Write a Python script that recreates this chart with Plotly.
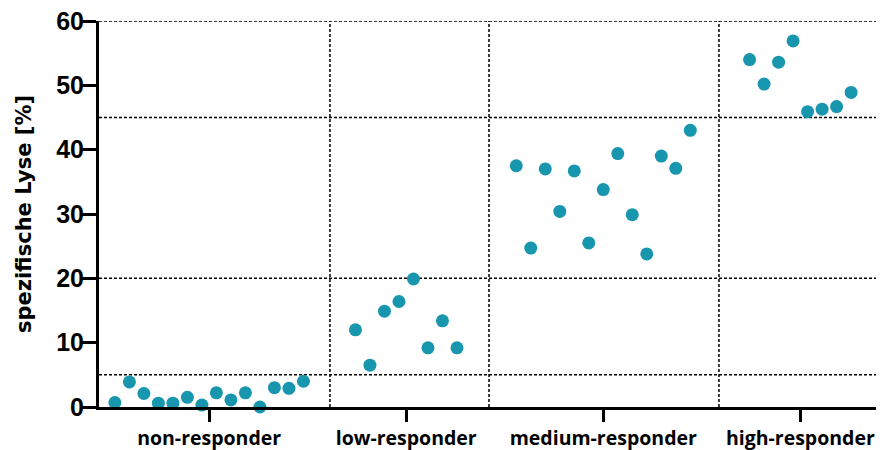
import plotly.graph_objects as go

# Daten (spezifische Lyse in %)
kategorien = ["non-responder", "low-responder", "medium-responder", "high-responder"]
non_responder = [0.7, 3.9, 2.1, 0.6, 0.6, 1.5, 0.3, 2.2, 1.1, 2.2, 0.0, 3.0, 2.9, 4.0]
low_responder = [12.0, 6.5, 14.9, 16.4, 19.9, 9.2, 13.4, 9.2]
medium_responder = [37.5, 24.7, 37.0, 30.4, 36.7, 25.5, 33.8, 39.4, 29.9, 23.8, 39.0, 37.1, 43.0]
high_responder = [54.0, 50.2, 53.6, 56.9, 45.9, 46.3, 46.7, 48.9]
gruppen = [non_responder, low_responder, medium_responder, high_responder]

schwellen = [5, 20, 45, 60]
trenner = [0.613, 1.42, 2.587]

FARBE = "#1796ae"
abstand = 0.0736  # horizontaler Abstand der Punkte innerhalb einer Gruppe

fig = go.Figure()
for i, werte in enumerate(gruppen):
    n = len(werte)
    xs = [i + (j - (n - 1) / 2) * abstand for j in range(n)]
    fig.add_trace(go.Scatter(
        x=xs, y=werte, mode="markers",
        marker=dict(color=FARBE, size=13, line=dict(width=0)),
        cliponaxis=False, showlegend=False
    ))

linie = dict(color="black", width=1.5, dash="3px,2px")
for s in schwellen:
    fig.add_shape(type="line", xref="paper", x0=0, x1=1, yref="y", y0=s, y1=s,
                  line=linie, layer="below")
for t in trenner:
    fig.add_shape(type="line", xref="x", x0=t, x1=t, yref="y", y0=0, y1=60,
                  line=linie, layer="below")
fig.add_shape(type="line", xref="paper", x0=1, x1=1, yref="y", y0=0, y1=60,
              line=linie, layer="below")

# die Seite hat 8px Rand -> Figur 8px kleiner, Ränder entsprechend
fig.update_layout(
    width=876, height=442,
    margin=dict(l=91, r=7, t=13, b=43),
    plot_bgcolor="white", paper_bgcolor="white",
    xaxis=dict(
        range=[-0.559, 3.389], tickvals=[0, 1, 2, 3], ticktext=kategorien,
        automargin=False, ticklabeloverflow="allow",
        showgrid=False, zeroline=False, showline=True, linecolor="black", linewidth=3,
        ticks="outside", ticklen=12, tickwidth=3, tickcolor="black",
        tickfont=dict(family="Open Sans", size=19.5, color="black", weight="bold")
    ),
    yaxis=dict(
        range=[0, 60], tickvals=[0, 10, 20, 30, 40, 50, 60],
        automargin=False, ticklabelstandoff=-7, ticklabeloverflow="allow",
        showgrid=False, zeroline=False, showline=True, linecolor="black", linewidth=3,
        ticks="outside", ticklen=14, tickwidth=3, tickcolor="black",
        tickfont=dict(family="Liberation Sans", size=25, color="black", weight="bold"),
        title=dict(text="spezifische Lyse [%]", standoff=19,
                   font=dict(family="DejaVu Sans", size=21, color="black", weight="bold"))
    )
)

fig.write_html("out.html")
